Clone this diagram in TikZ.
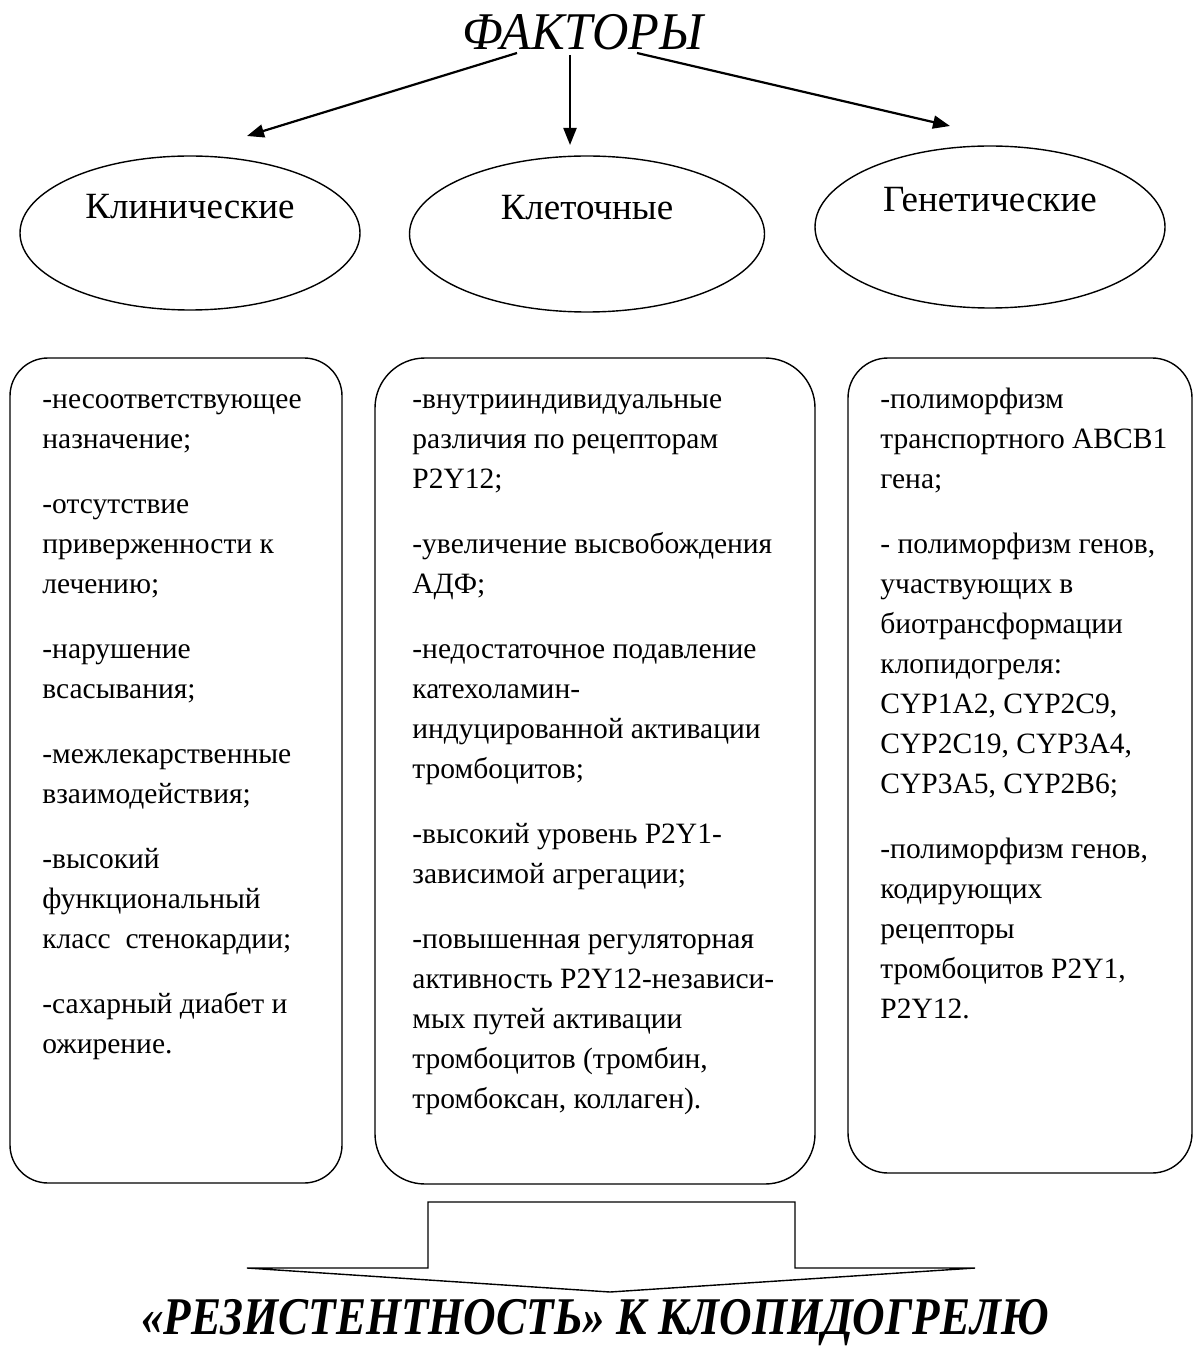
\documentclass[tikz,border=0pt]{standalone}
\usepackage{fontspec}
\setmainfont{Liberation Serif}
\usetikzlibrary{shapes.geometric,arrows.meta}

\begin{document}
\begin{tikzpicture}[x=0.5pt,y=-0.5pt,
  oval/.style={draw,ellipse,line width=0.7pt,inner sep=0pt},
  ovaltext/.style={anchor=base,inner sep=0pt,font=\fontsize{18.5}{22}\selectfont},
  factbox/.style={draw,line width=0.7pt,inner sep=0pt},
  factlist/.style={anchor=base west,align=left,inner sep=0pt,font=\fontsize{14.75}{20}\selectfont},
  arr/.style={-{Triangle[length=8.5pt,width=6.5pt]},line width=1.1pt}]
\useasboundingbox (0,0) rectangle (1194,1347);
\node[anchor=base,inner sep=0pt,xscale=0.95,transform shape,font=\itshape\fontsize{26.5}{30}\selectfont] (title) at (583,50) {ФАКТОРЫ};

\node[oval,minimum width=170pt,minimum height=77pt] (clinoval) at (190,233) {};
\node[oval,minimum width=177.5pt,minimum height=78pt] (celloval) at (587,234) {};
\node[oval,minimum width=175pt,minimum height=81pt] (genoval) at (990,227) {};
\node[ovaltext] (clinlabel) at ([yshift=7pt]clinoval.center) {Клинические};
\node[ovaltext] (celllabel) at ([yshift=7pt]celloval.center) {Клеточные};
\node[ovaltext] (genlabel) at ([yshift=7.5pt]genoval.center) {Генетические};

\coordinate (clintip) at (247,136);
\coordinate (celltip) at (570,145);
\coordinate (gentip) at (950,126);
\draw[arr] ([xshift=-33pt,yshift=-1.5pt]title.base) -- (clintip);
\draw[arr] ([xshift=-6.5pt,yshift=-2.5pt]title.base) -- (celltip);
\draw[arr] ([xshift=27pt,yshift=-1.5pt]title.base) -- (gentip);

\node[factbox,rounded corners=19pt,minimum width=166pt,minimum height=412.5pt] (clinbox) at (176,770.5) {};
\node[factbox,rounded corners=25pt,minimum width=220pt,minimum height=413pt] (cellbox) at (595,771) {};
\node[factbox,rounded corners=20pt,minimum width=172pt,minimum height=407.5pt] (genbox) at (1020,765.5) {};

\node[factlist] (clinlist) at (42,1053) {-несоответствующее\\назначение;\\[12.5pt]
-отсутствие\\приверженности к\\лечению;\\[12.5pt]
-нарушение\\всасывания;\\[12.5pt]
-межлекарственные\\взаимодействия;\\[12.5pt]
-высокий\\функциональный\\класс\ \ стенокардии;\\[12.5pt]
-сахарный диабет и\\ожирение.};
\node[factlist] (celllist) at (412,1108) {-внутрииндивидуальные\\различия по рецепторам\\P2Y12;\\[12.5pt]
-увеличение высвобождения\\АДФ;\\[12.5pt]
-недостаточное подавление\\катехоламин-\\индуцированной активации\\тромбоцитов;\\[12.5pt]
-высокий уровень P2Y1-\\зависимой агрегации;\\[12.5pt]
-повышенная регуляторная\\активность P2Y12-независи-\\мых путей активации\\тромбоцитов (тромбин,\\тромбоксан, коллаген).};
\node[factlist] (genlist) at (880,1018) {-полиморфизм\\транспортного ABCB1\\гена;\\[12.5pt]
- полиморфизм генов,\\участвующих в\\биотрансформации\\клопидогреля:\\CYP1A2, CYP2C9,\\CYP2C19, CYP3A4,\\CYP3A5, CYP2B6;\\[12.5pt]
-полиморфизм генов,\\кодирующих\\рецепторы\\тромбоцитов P2Y1,\\P2Y12.};

\draw[line width=0.7pt] (428,1202) -- (795,1202) -- (795,1268) -- (975,1268) -- (610,1292) -- (247,1268) -- (428,1268) -- cycle;
\node[anchor=base,inner sep=0pt,xscale=0.85,transform shape,font=\bfseries\itshape\fontsize{26.5}{30}\selectfont] (result) at (595,1334) {«РЕЗИСТЕНТНОСТЬ» К КЛОПИДОГРЕЛЮ};
\end{tikzpicture}
\end{document}
